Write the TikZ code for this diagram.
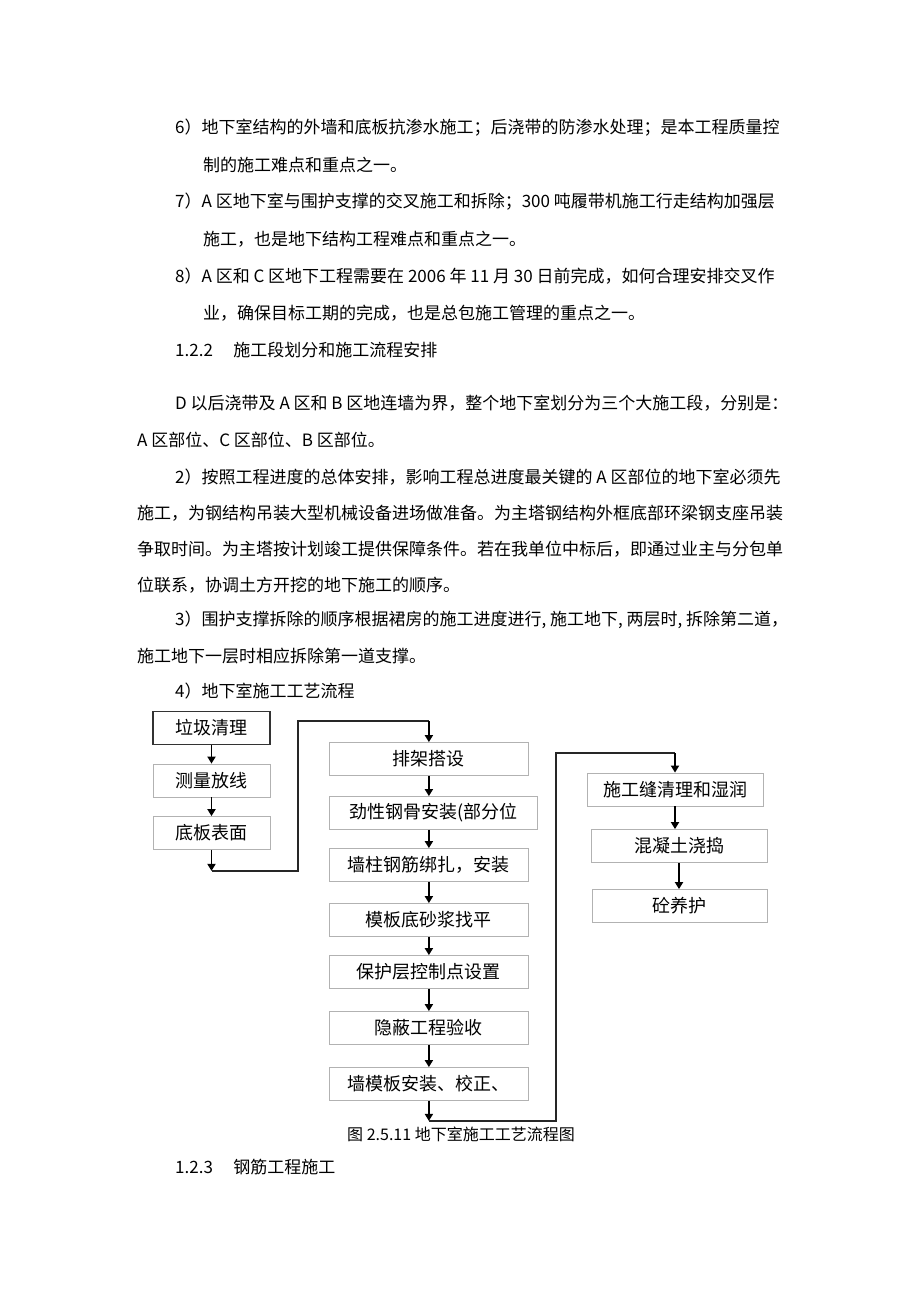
\documentclass[tikz,border=0pt]{standalone}
\usepackage{fontspec}
\setmainfont{Liberation Sans}
\newfontfamily\cjk{Noto Sans CJK SC}
\usepackage{tikz}
\usetikzlibrary{positioning, calc, arrows.meta}

\newcommand{\bodyfont}{\cjk\fontsize{17}{20}\selectfont}
\newcommand{\boxfont}{\cjk\fontsize{18}{21}\selectfont}
\newcommand{\capfont}{\cjk\fontsize{16}{19}\selectfont}

\tikzset{
  txt/.style={anchor=west, inner sep=0pt, font=\bodyfont},
  kbox/.style={draw=gray!60, line width=0.8pt, fill=white, minimum height=33pt, inner sep=0pt, font=\boxfont},
  arr/.style={-{Triangle[width=8pt,length=7pt]}, line width=1.8pt},
  conn/.style={line width=1.3pt, black!85},
}

\begin{document}
\begin{tikzpicture}[x=1pt,y=-1pt]
    % 背景
    \fill[white] (0,0) rectangle (920,1301);
    \useasboundingbox (0,0) rectangle (920,1301);

    % 本文 6)--8)
    \node[txt] (t1) at (175,128) {6）地下室结构的外墙和底板抗渗水施工；后浇带的防渗水处理；是本工程质量控};
    \node[txt] (t2) at (203,165) {制的施工难点和重点之一。};
    \node[txt] (t3) at (175,202) {7）A 区地下室与围护支撑的交叉施工和拆除；300 吨履带机施工行走结构加强层};
    \node[txt] (t4) at (203,239) {施工，也是地下结构工程难点和重点之一。};
    \node[txt] (t5) at (175,276) {8）A 区和 C 区地下工程需要在 2006 年 11 月 30 日前完成，如何合理安排交叉作};
    \node[txt] (t6) at (203,313) {业，确保目标工期的完成，也是总包施工管理的重点之一。};

    % 見出し 1.2.2
    \node[txt] (h122) at (175,350) {1.2.2\hspace{1.2em}施工段划分和施工流程安排};

    % 本文
    \node[txt] (t7) at (175,403) {D 以后浇带及 A 区和 B 区地连墙为界，整个地下室划分为三个大施工段，分别是：};
    \node[txt] (t8) at (137,440) {A 区部位、C 区部位、B 区部位。};
    \node[txt] (t9) at (175,477) {2）按照工程进度的总体安排，影响工程总进度最关键的 A 区部位的地下室必须先};
    \node[txt] (t10) at (137,513) {施工，为钢结构吊装大型机械设备进场做准备。为主塔钢结构外框底部环梁钢支座吊装};
    \node[txt] (t11) at (137,549) {争取时间。为主塔按计划竣工提供保障条件。若在我单位中标后，即通过业主与分包单};
    \node[txt] (t12) at (137,585) {位联系，协调土方开挖的地下施工的顺序。};
    \node[txt] (t13) at (175,620) {3）围护支撑拆除的顺序根据裙房的施工进度进行, 施工地下, 两层时, 拆除第二道，};
    \node[txt] (t14) at (137,656) {施工地下一层时相应拆除第一道支撑。};
    \node[txt] (t15) at (175,691) {4）地下室施工工艺流程};

    % 左の列
    \node[kbox, minimum width=117pt, draw=black!80, line width=1.4pt] (laji) at (211.5,728) {垃圾清理};
    \node[kbox, minimum width=117pt] (celiang) at (211.5,780.5) {测量放线};
    \node[kbox, minimum width=117pt] (diban) at (211.5,833) {底板表面};
    \draw[arr] (laji) -- (celiang);
    \draw[arr] (celiang) -- (diban);

    % 中央の列
    \node[kbox, minimum width=199pt, anchor=west] (paijia) at (329,759) {排架搭设};
    \node[kbox, minimum width=208pt, anchor=west] (jinxing) at (329,813) {劲性钢骨安装(部分位};
    \node[kbox, minimum width=199pt, anchor=west] (qiangzhu) at (329,865) {墙柱钢筋绑扎，安装};
    \node[kbox, minimum width=199pt, anchor=west] (moban) at (329,920) {模板底砂浆找平};
    \node[kbox, minimum width=199pt, anchor=west] (baohu) at (329,972) {保护层控制点设置};
    \node[kbox, minimum width=199pt, anchor=west] (yinbi) at (329,1028) {隐蔽工程验收};
    \node[kbox, minimum width=199pt, anchor=west] (qiangmo) at (329,1084) {墙模板安装、校正、};
    \draw[arr] (paijia.south) -- (paijia.south |- jinxing.north);
    \draw[arr] (jinxing.south -| paijia.south) -- (paijia.south |- qiangzhu.north);
    \draw[arr] (qiangzhu.south) -- (qiangzhu.south |- moban.north);
    \draw[arr] (moban.south) -- (moban.south |- baohu.north);
    \draw[arr] (baohu.south) -- (baohu.south |- yinbi.north);
    \draw[arr] (yinbi.south) -- (yinbi.south |- qiangmo.north);

    % 右の列
    \node[kbox, minimum width=176pt] (shigong) at (675,789.5) {施工缝清理和湿润};
    \node[kbox, minimum width=176pt] (hunning) at (679,846) {混凝土浇捣};
    \node[kbox, minimum width=175pt] (yanghu) at (679.5,906) {砼养护};
    \draw[arr] (shigong.south) -- (shigong.south |- hunning.north);
    \draw[arr] (hunning.south) -- (hunning.south |- yanghu.north);

    % 列をつなぐ線
    \coordinate (c1) at ($(diban.south)+(0,21)$);
    \coordinate (c2) at (298,721);
    \draw[arr] (diban.south) -- (c1);
    \draw[conn] (c1) -| (c2) -- (c2 -| paijia.north);
    \draw[arr] (c2 -| paijia.north) -- (paijia.north);

    \coordinate (c3) at ($(qiangmo.south)+(0,20)$);
    \coordinate (c4) at (556,753);
    \draw[arr] (qiangmo.south) -- (c3);
    \draw[conn] (c3) -| (c4) -- (c4 -| shigong.north);
    \draw[arr] (c4 -| shigong.north) -- (shigong.north);

    % 図の題
    \node[font=\capfont, inner sep=0pt] (cap) at (461,1134) {图 2.5.11 地下室施工工艺流程图};

    % 見出し 1.2.3
    \node[txt] (h123) at (175,1167) {1.2.3\hspace{1.2em}钢筋工程施工};
\end{tikzpicture}
\end{document}
